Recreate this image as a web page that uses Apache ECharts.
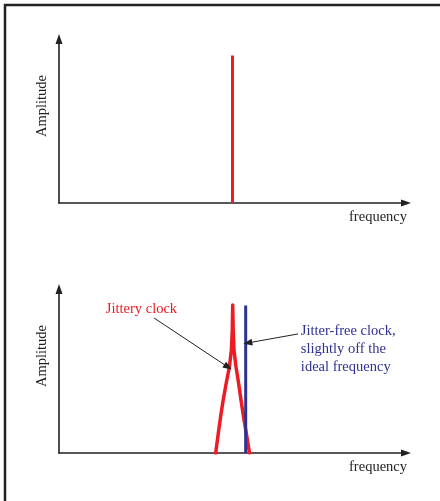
<!DOCTYPE html>
<html>
<head>
<meta charset="utf-8">
<script src="https://cdn.jsdelivr.net/npm/echarts@6/dist/echarts.min.js"></script>
<style>html,body{margin:0;padding:0;background:#fff}#c{width:440px;height:501px}</style>
</head>
<body>
<div id="c"></div>
<script>
// ---- data ----
var idealFreq = 50;          // frequency of the ideal (top) clock
var idealAmp = 9;            // amplitude of the top spike
var freeFreq = 53.8;         // jitter-free but slightly off clock
var freeAmp = 9;
var jitterX = [45.16, 45.91, 46.57, 47.32, 48.18, 49.11, 49.68, 49.94, 50.06, 50.2, 50.43, 51.01, 51.76, 52.45, 53.17, 53.98, 54.9];
var jitterY = [0, 1.2, 2.21, 3.23, 4.25, 5.26, 6.28, 7.5, 9.02, 7.5, 6.28, 5.26, 4.25, 3.23, 2.21, 1.2, 0];
var xName = 'frequency';
var yName = 'Amplitude';
var labelJitter = 'Jittery clock';
var labelFree = 'Jitter-free clock,\nslightly off the\nideal frequency';
var arrowJitter = [[27.4, 8.23], [48.7, 5.24]];
var arrowFree = [[68.9, 7.26], [54.4, 6.71]];

var RED = '#ed1c24', BLUE = '#2e3192', INK = '#222';
var FONT = '"Liberation Serif", "DejaVu Serif", serif';

function xAx(i) {
  return {
    gridIndex: i, type: 'value', min: 0, max: 100,
    axisLine: { lineStyle: { color: INK, width: 1.6 }, symbol: ['none', 'triangle'], symbolSize: [7, 10] },
    axisTick: { show: false }, axisLabel: { show: false }, splitLine: { show: false },
    name: xName, nameLocation: 'end', nameGap: 1,
    nameTextStyle: { fontFamily: FONT, fontSize: 14.5, color: INK, align: 'right', verticalAlign: 'top', padding: [7, 0, 0, 0] }
  };
}
function yAx(i) {
  return {
    gridIndex: i, type: 'value', min: 0, max: 10,
    axisLine: { lineStyle: { color: INK, width: 1.6 }, symbol: ['none', 'triangle'], symbolSize: [7, 10] },
    axisTick: { show: false }, axisLabel: { show: false }, splitLine: { show: false },
    name: yName, nameLocation: 'middle', nameGap: 9,
    nameTextStyle: { fontFamily: FONT, fontSize: 14.5, color: INK, padding: [0, 0, 0, 30] }
  };
}
function zip(a, b) { return a.map(function (v, i) { return [v, b[i]]; }); }

var option = {
  animation: false,
  backgroundColor: '#fff',
  grid: [
    { left: 59, right: 34, top: 39, height: 164 },
    { left: 59, right: 34, top: 289, height: 164 }
  ],
  xAxis: [xAx(0), xAx(1)],
  yAxis: [yAx(0), yAx(1)],
  graphic: [
    { type: 'rect', shape: { x: 5, y: 5, width: 480, height: 520 }, style: { fill: 'none', stroke: INK, lineWidth: 2.5 }, z: 100 }
  ],
  series: [
    {
      type: 'line', xAxisIndex: 0, yAxisIndex: 0, symbol: 'none',
      data: [[idealFreq, 0], [idealFreq, idealAmp]],
      lineStyle: { color: RED, width: 3, cap: 'butt' }
    },
    {
      type: 'line', xAxisIndex: 1, yAxisIndex: 1, symbol: 'none',
      data: zip(jitterX, jitterY),
      lineStyle: { color: RED, width: 3.5, cap: 'round', join: 'round' },
      markPoint: {
        symbol: 'circle', symbolSize: 0,
        label: { show: true, position: 'right', distance: 0, fontFamily: FONT, fontSize: 14.5, color: RED, formatter: labelJitter },
        data: [{ coord: [13.5, 8.78] }]
      },
      markLine: {
        silent: true, symbol: ['none', 'triangle'], symbolSize: [7, 9],
        label: { show: false },
        lineStyle: { color: INK, width: 1, type: 'solid' },
        data: [[{ coord: arrowJitter[0] }, { coord: arrowJitter[1] }]]
      }
    },
    {
      type: 'line', xAxisIndex: 1, yAxisIndex: 1, symbol: 'none',
      data: [[freeFreq, 0], [freeFreq, freeAmp]],
      lineStyle: { color: BLUE, width: 3, cap: 'butt' },
      markPoint: {
        symbol: 'circle', symbolSize: 0,
        label: { show: true, position: 'right', distance: 0, fontFamily: FONT, fontSize: 14.5, lineHeight: 18, color: BLUE, formatter: labelFree },
        data: [{ coord: [69.7, 6.34] }]
      },
      markLine: {
        silent: true, symbol: ['none', 'triangle'], symbolSize: [7, 9],
        label: { show: false },
        lineStyle: { color: INK, width: 1, type: 'solid' },
        data: [[{ coord: arrowFree[0] }, { coord: arrowFree[1] }]]
      }
    }
  ]
};
var chart = echarts.init(document.getElementById('c'), null, { renderer: 'canvas' });
chart.setOption(option);
</script>
</body>
</html>
